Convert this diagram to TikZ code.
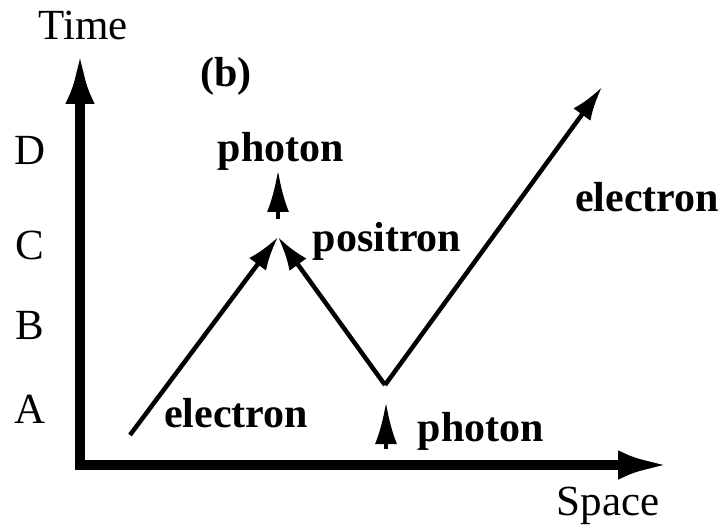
\documentclass[tikz,border=0pt]{standalone}
\usepackage{fontspec}
\setmainfont{Liberation Serif}
\usetikzlibrary{arrows.meta}

\begin{document}
\begin{tikzpicture}[x=1pt,y=-1pt,
  font=\fontsize{43}{50}\selectfont,
  axis/.style={line width=10pt,-{Latex[length=52pt,width=29pt]}},
  worldline/.style={line width=4.5pt,-{Latex[length=34pt,width=21pt]}},
  photonarrow/.style={line width=4.5pt,-{Latex[length=42pt,width=22pt]}},
  lbl/.style={anchor=base,inner sep=0pt},
  particle/.style={lbl,font=\fontsize{42}{49}\selectfont\bfseries}]
\useasboundingbox (0,0) rectangle (723,529);
\coordinate (origin) at (80,465);
\coordinate (timeend) at (80,52);
\coordinate (spaceend) at (670,465);
\coordinate (ein) at (130,435);
\coordinate (vc) at (278,237);
\coordinate (va) at (385,385);
\coordinate (eout) at (602,87);
\coordinate (gbot) at (386,449);
\coordinate (gbottip) at (386,402);
\coordinate (gtop) at (278,219);
\coordinate (gtoptip) at (278,170);
\draw[axis] (origin) -- (timeend);
\draw[axis] (75,465) -- (spaceend);
\draw[worldline] (ein) -- (vc);
\draw[worldline] (va) -- (vc);
\draw[worldline] (va) -- (eout);
\draw[photonarrow] (gbot) -- (gbottip);
\draw[photonarrow] (gtop) -- (gtoptip);
\node[lbl] (time) at (83,40) {Time};
\node[lbl] (space) at (608,515) {Space};
\node[lbl] (d) at (30,165) {D};
\node[lbl] (c) at (30,260) {C};
\node[lbl] (b) at (30,340) {B};
\node[lbl] (a) at (30,423) {A};
\node[particle] (panel) at (226,87) {(b)};
\node[particle] (phtop) at (281,162) {photon};
\node[particle] (pos) at (387,252) {positron};
\node[particle] (ebot) at (236,427) {electron};
\node[particle] (phbot) at (481,441) {photon};
\node[particle] (etop) at (647,212) {electron};
\end{tikzpicture}
\end{document}
